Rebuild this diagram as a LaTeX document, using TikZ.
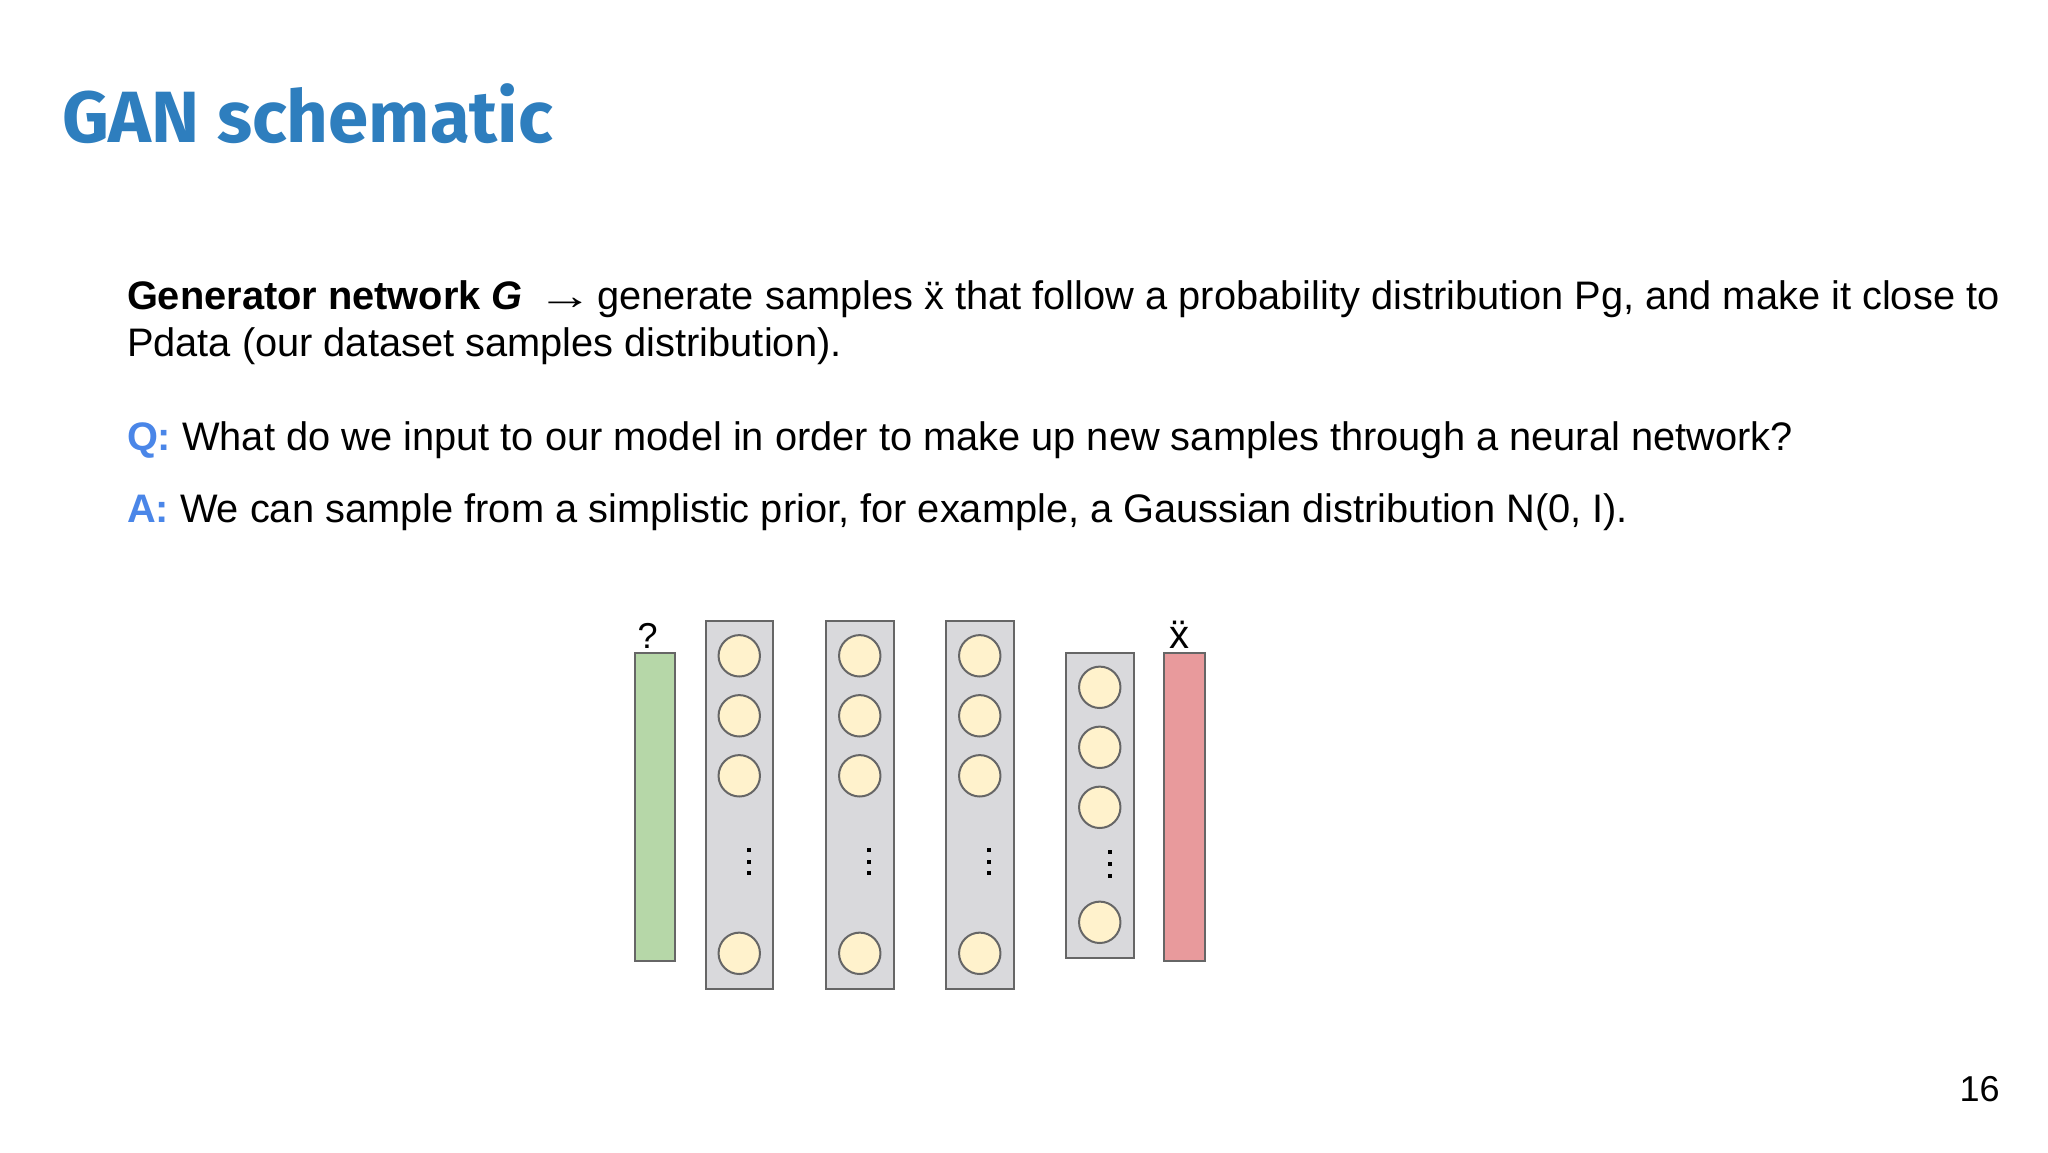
\documentclass[tikz,border=0pt]{standalone}
\usepackage{fontspec}
\usepackage{graphicx}
\usetikzlibrary{calc}
\setmainfont{Liberation Sans}
\newfontfamily\titlefont{Fira Sans}
\definecolor{titleblue}{HTML}{2E7EBE}
\definecolor{qablue}{HTML}{4A86E8}
\definecolor{bordergray}{HTML}{666666}
\definecolor{layergray}{HTML}{D9D9DC}
\definecolor{inputgreen}{HTML}{B6D7A8}
\definecolor{outputred}{HTML}{E89A9C}
\definecolor{neuronyellow}{HTML}{FFF2CC}
\newcommand{\xdd}{{\accent"A8 x}}
\begin{document}
\begin{tikzpicture}[x=0.5pt,y=-0.5pt,
  txt/.style={anchor=base west, inner sep=0, outer sep=0},
  bodyfont/.style={font=\fontsize{19.9}{23}\selectfont},
  bar/.style={draw=bordergray, line width=1pt, minimum width=20pt, minimum height=154pt, inner sep=0},
  layer/.style={draw=bordergray, fill=layergray, line width=1pt, minimum width=33.75pt, inner sep=0},
  neuron/.style={circle, draw=bordergray, fill=neuronyellow, line width=1pt, minimum size=20.7pt, inner sep=0},
  vdot/.style={fill=black}
]
\useasboundingbox (0,0) rectangle (2048,1152);
\fill[white] (0,0) rectangle (2048,1152);

% title
\node[txt, font=\titlefont\bfseries\fontsize{36.3}{40}\selectfont, text=titleblue] (title) at (62,142.7) {GAN schematic};

% body text
\node[txt, bodyfont] (l1) at (127,309) {\textbf{Generator network \textit{G}}\hspace{7.2pt}\scalebox{1.4}[1]{→}\hspace{2pt}generate samples \xdd{} that follow a probability distribution Pg, and make it close to};
\node[txt, bodyfont] (l2) at (127,356) {Pdata (our dataset samples distribution).};
\node[txt, bodyfont] (q) at (127,450) {\textbf{\textcolor{qablue}{Q:}} What do we input to our model in order to make up new samples through a neural network?};
\node[txt, bodyfont] (a) at (127,522) {\textbf{\textcolor{qablue}{A:}} We can sample from a simplistic prior, for example, a Gaussian distribution N(0, I).};

% page number
\node[anchor=base east, inner sep=0, font=\fontsize{18}{20}\selectfont] (pnum) at (2000,1101.7) {16};

% network
\node[bar, fill=inputgreen] (zin) at (655,807) {};
\node[anchor=base, inner sep=0, font=\fontsize{18}{20}\selectfont] (qlabel) at (647.5,648.3) {?};

\foreach \n/\cx in {h1/739.25, h2/859.75, h3/979.75} {
  \node[layer, minimum height=184pt] (\n) at (\cx,805) {};
  \node[neuron] (\n a) at (\cx,655.8) {};
  \node[neuron] (\n b) at (\cx,715.8) {};
  \node[neuron] (\n c) at (\cx,775.8) {};
  \node[neuron] (\n d) at (\cx,953.3) {};
  \foreach \dy in {850,861.5,873} {
    \fill[vdot] ($(\cx,\dy)+(7.5,-2)$) rectangle ++(4,4);
  }
}
\node[layer, minimum height=152.5pt] (h4) at (1099.75,805) {};
\node[neuron] (h4a) at (1099.75,687.3) {};
\node[neuron] (h4b) at (1099.75,747.3) {};
\node[neuron] (h4c) at (1099.75,807.3) {};
\node[neuron] (h4d) at (1099.75,922.3) {};
\foreach \dy in {852.3,864,875.5} {
  \fill[vdot] (1107.75,\dy-2) rectangle ++(4,4);
}

\node[bar, fill=outputred, minimum width=20.25pt] (xout) at (1184.25,806.5) {};
\node[anchor=base, inner sep=0, font=\fontsize{20}{22}\selectfont] (xlabel) at (1179.5,648) {\xdd};
\end{tikzpicture}
\end{document}
